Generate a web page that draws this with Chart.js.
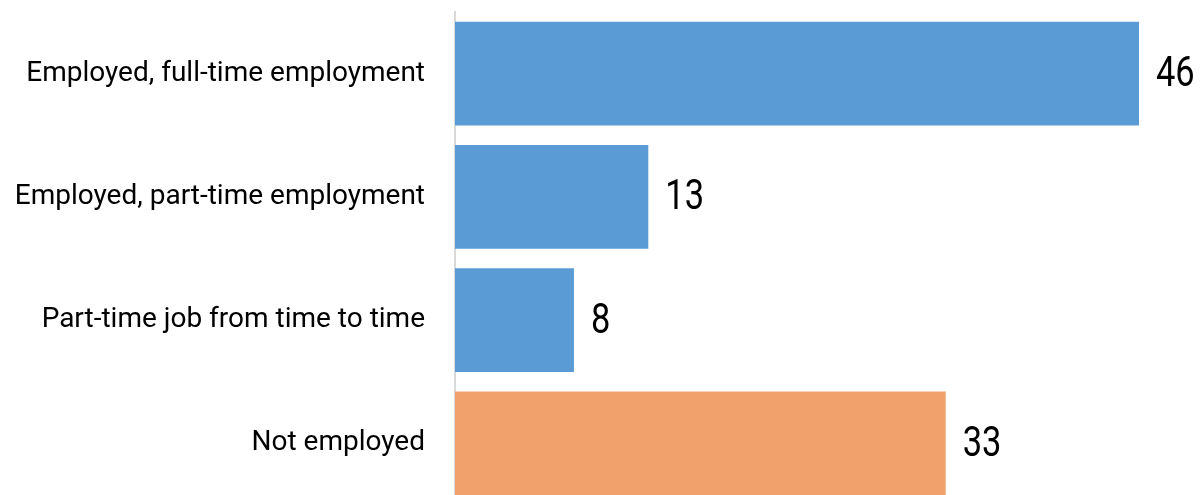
<!DOCTYPE html>
<html>
<head>
<meta charset="utf-8">
<script src="https://cdn.jsdelivr.net/npm/chart.js@4.4.1/dist/chart.umd.min.js"></script>
<style>
  html, body { margin: 0; padding: 0; background: #fff; overflow: hidden; }
  #wrap { width: 1204px; height: 495px; overflow: hidden; }
  canvas { display: block; }
</style>
</head>
<body>
<div id="wrap"><canvas id="empChart" width="1204" height="505"></canvas></div>
<script>
const categories = [
  'Employed, full-time employment',
  'Employed, part-time employment',
  'Part-time job from time to time',
  'Not employed'
];
const shares = [46, 13, 8, 33];
const barColors = ['#5b9bd5', '#5b9bd5', '#5b9bd5', '#f1a26c'];

const LABEL_FONT = 'Roboto';

// numbers to the right of each bar, drawn a bit narrower than normal
const valueLabels = {
  id: 'valueLabels',
  afterDatasetsDraw(chart) {
    const ctx = chart.ctx;
    const meta = chart.getDatasetMeta(0);
    ctx.save();
    ctx.fillStyle = '#000';
    ctx.font = '42px ' + LABEL_FONT;
    ctx.textBaseline = 'middle';
    ctx.textAlign = 'left';
    meta.data.forEach((bar, i) => {
      ctx.save();
      ctx.translate(bar.x + 17, bar.y + 2);
      ctx.scale(0.82, 1);
      ctx.fillText(String(shares[i]), 0, 0);
      ctx.restore();
    });
    ctx.restore();
  }
};

const chart = new Chart(document.getElementById('empChart').getContext('2d'), {
  type: 'bar',
  data: {
    labels: categories,
    datasets: [{
      data: shares,
      backgroundColor: barColors,
      borderWidth: 0,
      barPercentage: 0.84,
      categoryPercentage: 1
    }]
  },
  options: {
    indexAxis: 'y',
    responsive: false,
    animation: false,
    layout: { padding: { top: 12, right: 65, bottom: 0, left: 0 } },
    plugins: {
      legend: { display: false },
      tooltip: { enabled: false }
    },
    scales: {
      x: {
        min: 0,
        max: 46,
        display: false
      },
      y: {
        grid: { display: false, drawTicks: false },
        border: { display: true, color: '#d9d9d9', width: 2 },
        ticks: {
          color: '#000',
          padding: 30,
          font: { family: LABEL_FONT, size: 28 }
        },
        afterFit(scale) {
          scale.width = 455;
          // tick padding would otherwise also pad the top and bottom
          scale.paddingTop = 0;
          scale.paddingBottom = 0;
        }
      }
    }
  },
  plugins: [valueLabels]
});
</script>
</body>
</html>
